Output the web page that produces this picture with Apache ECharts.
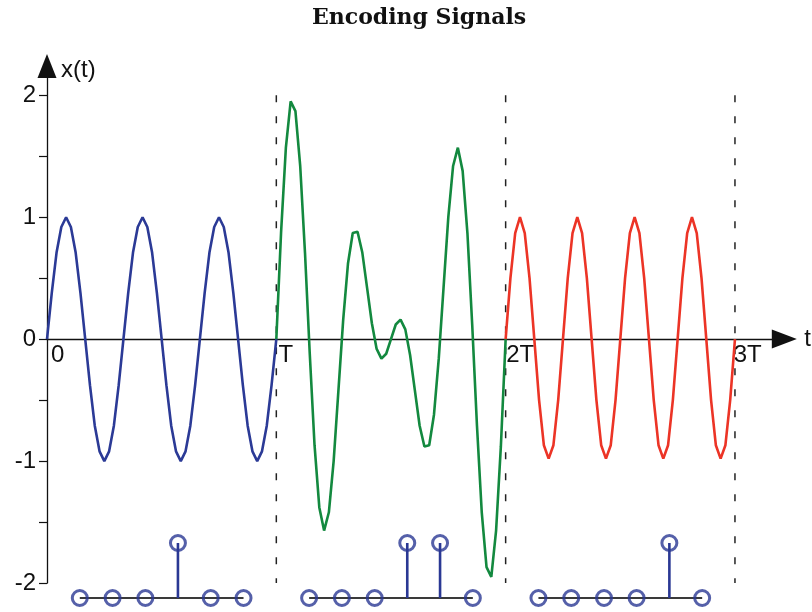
<!DOCTYPE html>
<html>
<head>
<meta charset="utf-8">
<title>Encoding Signals</title>
<script src="https://cdn.jsdelivr.net/npm/echarts@6/dist/echarts.min.js"></script>
<style>
  html, body { margin: 0; padding: 0; background: #fff; }
  #chart { width: 812px; height: 612px; }
</style>
</head>
<body>
<div id="chart"></div>
<script>
// 每个周期 T 内 48 个采样点（t 以 T 为单位）
const samplesPerT = 48

// 第一段 [0, T]：蓝色
const blueY = [
  0, 0.38, 0.71, 0.92, 1, 0.92, 0.71, 0.38, 0, -0.38, -0.71, -0.92, -1, -0.92, -0.71, -0.38,
  0, 0.38, 0.71, 0.92, 1, 0.92, 0.71, 0.38, 0, -0.38, -0.71, -0.92, -1, -0.92, -0.71, -0.38,
  0, 0.38, 0.71, 0.92, 1, 0.92, 0.71, 0.38, 0, -0.38, -0.71, -0.92, -1, -0.92, -0.71, -0.38,
  0
]

// 第二段 [T, 2T]：绿色
const greenY = [
  0, 0.88, 1.57, 1.95, 1.87, 1.42, 0.71, -0.12, -0.87, -1.38, -1.57, -1.42, -1, -0.42, 0.16, 0.62,
  0.87, 0.88, 0.71, 0.42, 0.13, -0.08, -0.16, -0.12, 0, 0.12, 0.16, 0.08, -0.13, -0.42, -0.71, -0.88,
  -0.87, -0.62, -0.16, 0.42, 1, 1.42, 1.57, 1.38, 0.87, 0.12, -0.71, -1.42, -1.87, -1.95, -1.57, -0.88,
  0
]

// 第三段 [2T, 3T]：红色
const redY = [
  0, 0.5, 0.87, 1, 0.87, 0.5, 0, -0.5, -0.87, -0.98, -0.87, -0.5,
  0, 0.5, 0.87, 1, 0.87, 0.5, 0, -0.5, -0.87, -0.98, -0.87, -0.5,
  0, 0.5, 0.87, 1, 0.87, 0.5, 0, -0.5, -0.87, -0.98, -0.87, -0.5,
  0, 0.5, 0.87, 1, 0.87, 0.5, 0, -0.5, -0.87, -0.98, -0.87, -0.5,
  0
]

const boundaries = [1, 2, 3]
const xTickValues = [0, 1, 2, 3]
const xTickLabels = ['0', 'T', '2T', '3T']
const yTickValues = [-2, -1.5, -1, -0.5, 0, 0.5, 1, 1.5, 2]
const yLabelValues = [-2, -1, 0, 1, 2]

// 底部编码位
const bitTimes = [
  0.143, 0.286, 0.429, 0.571, 0.714, 0.857,
  1.143, 1.286, 1.429, 1.571, 1.714, 1.857,
  2.143, 2.286, 2.429, 2.571, 2.714, 2.857
]
const bits = [
  0, 0, 0, 1, 0, 0,
  0, 0, 0, 1, 1, 0,
  0, 0, 0, 0, 1, 0
]
const bitGroups = [[0.143, 0.857], [1.143, 1.857], [2.143, 2.857]]

const axisColor = '#111'
const stemColor = '#2a3894'
const xMax = 3.24
const labelFont = { fontFamily: 'Liberation Sans', fontSize: 24, color: axisColor }

function toPoints(ys, start) {
  return ys.map((y, k) => [start + k / samplesPerT, y])
}

const chart = echarts.init(document.getElementById('chart'))

const curveSeries = [
  { data: toPoints(blueY, 0), color: '#2b3a96' },
  { data: toPoints(greenY, 1), color: '#13893f' },
  { data: toPoints(redY, 2), color: '#ec3426' }
].map(c => ({
  type: 'line',
  data: c.data,
  showSymbol: false,
  z: 3,
  lineStyle: { color: c.color, width: 2.6 }
}))

const dashSeries = boundaries.map(b => ({
  type: 'line',
  data: [[b, 2], [b, -2]],
  showSymbol: false,
  z: 2,
  lineStyle: { color: '#222', width: 1.5, type: [7, 14] }
}))

const baseSeries = bitGroups.map(g => ({
  type: 'line',
  xAxisIndex: 1,
  yAxisIndex: 1,
  data: [[g[0], 0], [g[1], 0]],
  showSymbol: false,
  clip: false,
  lineStyle: { color: '#3a3a3a', width: 2 }
}))

const stemData = []
bits.forEach((b, i) => {
  if (b === 1) {
    stemData.push([bitTimes[i], 0], [bitTimes[i], 1], [bitTimes[i], '-'])
  }
})

const option = {
  animation: false,
  backgroundColor: '#fff',
  title: {
    text: 'Encoding Signals',
    left: 307,
    top: 2,
    textStyle: {
      fontFamily: 'DejaVu Serif',
      fontWeight: 'bold',
      fontSize: 22,
      color: '#111'
    }
  },
  grid: [
    // 曲线区域：y 从 -2 到 2.24
    { left: 47, right: 22, top: 66, bottom: 29 },
    // 底部编码位
    { left: 47, right: 22, top: 543, height: 55 },
    // 横轴放在 y = 0 的位置
    { left: 47, right: 22, top: 66, height: 273 }
  ],
  xAxis: [
    { type: 'value', gridIndex: 0, min: 0, max: xMax, show: false },
    { type: 'value', gridIndex: 1, min: 0, max: xMax, show: false },
    {
      type: 'value',
      gridIndex: 2,
      min: 0,
      max: xMax,
      name: 't',
      nameLocation: 'end',
      nameGap: 20,
      nameTextStyle: labelFont,
      axisLine: {
        show: true,
        onZero: false,
        symbol: ['none', 'triangle'],
        symbolSize: [19, 25],
        lineStyle: { color: axisColor, width: 1.3 }
      },
      axisTick: { show: false },
      splitLine: { show: false },
      axisLabel: {
        customValues: xTickValues,
        formatter: v => xTickLabels[xTickValues.indexOf(v)],
        align: 'left',
        padding: [0, 0, 0, 4],
        margin: 4,
        ...labelFont
      }
    }
  ],
  yAxis: [
    {
      type: 'value',
      gridIndex: 0,
      min: -2,
      max: 2.24,
      name: 'x(t)',
      nameLocation: 'end',
      nameGap: -4,
      nameTextStyle: {
        ...labelFont,
        align: 'left',
        verticalAlign: 'middle',
        padding: [0, 0, 0, 14]
      },
      axisLine: {
        show: true,
        onZero: false,
        symbol: ['none', 'triangle'],
        symbolSize: [19, 24],
        lineStyle: { color: axisColor, width: 1.3 }
      },
      axisTick: {
        show: true,
        customValues: yTickValues,
        length: 8,
        lineStyle: { color: axisColor, width: 1.2 }
      },
      splitLine: { show: false },
      axisLabel: {
        customValues: yLabelValues,
        margin: 11,
        ...labelFont
      }
    },
    { type: 'value', gridIndex: 1, min: 0, max: 1, show: false },
    { type: 'value', gridIndex: 2, min: 0, max: 1, show: false }
  ],
  series: [
    ...dashSeries,
    ...curveSeries,
    ...baseSeries,
    {
      type: 'line',
      xAxisIndex: 1,
      yAxisIndex: 1,
      data: stemData,
      showSymbol: false,
      connectNulls: false,
      clip: false,
      lineStyle: { color: stemColor, width: 2.6 }
    },
    {
      type: 'scatter',
      xAxisIndex: 1,
      yAxisIndex: 1,
      data: bits.map((b, i) => [bitTimes[i], b]),
      symbol: 'circle',
      symbolSize: 15,
      clip: false,
      z: 5,
      itemStyle: { color: 'rgba(0,0,0,0)', borderColor: stemColor, borderWidth: 3 }
    }
  ]
}

chart.setOption(option)
</script>
</body>
</html>
